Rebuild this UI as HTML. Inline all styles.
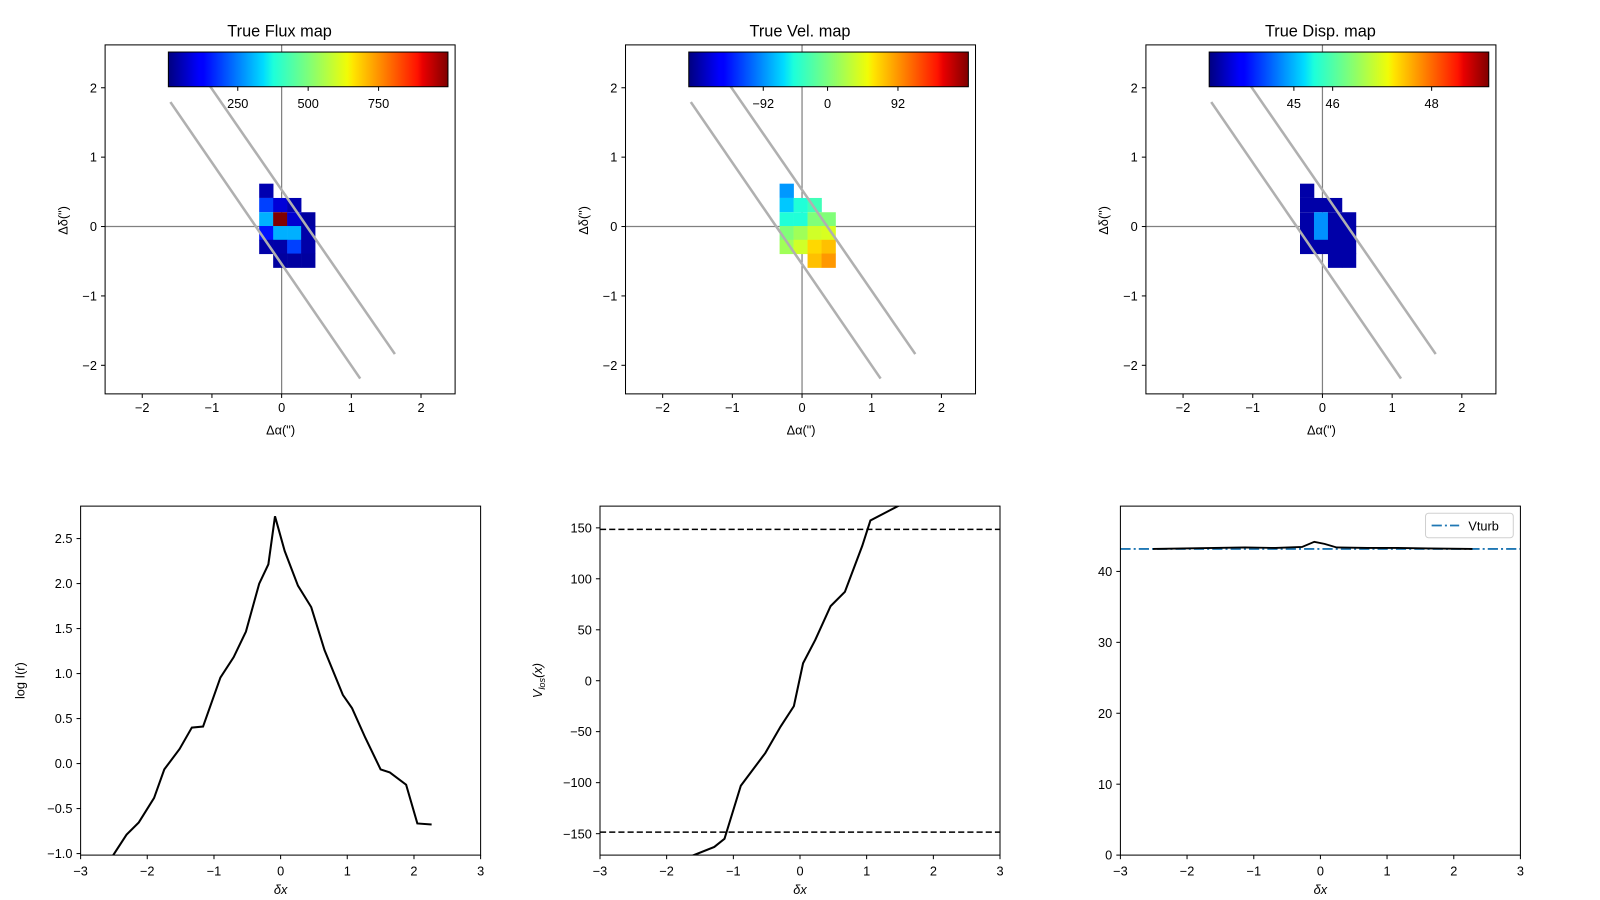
<!DOCTYPE html>
<html><head><meta charset="utf-8"><style>
html,body{margin:0;padding:0;background:#fff;}
svg{display:block;font-family:"Liberation Sans","DejaVu Sans",sans-serif;}
</style></head><body>
<svg width="1600" height="900" viewBox="0 0 1568 882" xmlns="http://www.w3.org/2000/svg">
<defs>
<linearGradient id="jet" x1="0" x2="1" y1="0" y2="0">
<stop offset="0" stop-color="#00007f"/><stop offset="0.11" stop-color="#0000ff"/><stop offset="0.125" stop-color="#0000ff"/>
<stop offset="0.34" stop-color="#00dcff"/><stop offset="0.375" stop-color="#1cffdb"/><stop offset="0.5" stop-color="#7dff7a"/>
<stop offset="0.64" stop-color="#f1fc06"/><stop offset="0.66" stop-color="#ffe600"/><stop offset="0.89" stop-color="#ff1300"/>
<stop offset="0.91" stop-color="#e80000"/><stop offset="1" stop-color="#7f0000"/>
</linearGradient>
<clipPath id="c1"><rect x="79" y="496" width="392" height="342"/></clipPath>
<clipPath id="c2"><rect x="588" y="496" width="392" height="342"/></clipPath>
<clipPath id="c3"><rect x="1098" y="496" width="392" height="342"/></clipPath>
</defs>

<g font-size="12.5" fill="#000">
<!-- Panel 1 -->
<g>
<text x="274" y="36" font-size="16" text-anchor="middle">True Flux map</text>
<line x1="103" y1="222" x2="446" y2="222" stroke="#808080" stroke-width="1.2"/>
<line x1="276" y1="44" x2="276" y2="386" stroke="#808080" stroke-width="1.2"/>
<g transform="translate(254,180)">
<rect x="0" y="0" width="14" height="14" fill="#0000b0"/>
<rect x="0" y="14" width="14" height="14" fill="#0040ff"/><rect x="13.7" y="14" width="14" height="14" fill="#0000d8"/><rect x="27.4" y="14" width="14" height="14" fill="#0000b0"/>
<rect x="0" y="28" width="14" height="14" fill="#00b0ff"/><rect x="13.7" y="28" width="14" height="14" fill="#800000"/><rect x="27.4" y="28" width="14" height="14" fill="#0000d0"/><rect x="41.1" y="28" width="14" height="14" fill="#0000a0"/>
<rect x="0" y="41.5" width="14" height="14" fill="#0010ff"/><rect x="13.7" y="41.5" width="14" height="14" fill="#00b0ff"/><rect x="27.4" y="41.5" width="14" height="14" fill="#00b0ff"/><rect x="41.1" y="41.5" width="14" height="14" fill="#0000a8"/>
<rect x="0" y="55" width="14" height="14" fill="#0000a8"/><rect x="13.7" y="55" width="14" height="14" fill="#0000a8"/><rect x="27.4" y="55" width="14" height="14" fill="#0040ff"/><rect x="41.1" y="55" width="14" height="14" fill="#0000a8"/>
<rect x="13.7" y="68.5" width="14" height="14" fill="#0000a0"/><rect x="27.4" y="68.5" width="14" height="14" fill="#0000a0"/><rect x="41.1" y="68.5" width="14" height="14" fill="#0000a0"/>
</g>
<line x1="167" y1="100" x2="353" y2="371" stroke="#b0b0b0" stroke-width="2.5"/>
<line x1="200" y1="76" x2="387" y2="347" stroke="#b0b0b0" stroke-width="2.5"/>
<rect x="165" y="51" width="274" height="34" fill="url(#jet)" stroke="#000" stroke-width="1"/>
<g stroke="#000"><line x1="233" y1="85" x2="233" y2="89"/><line x1="302" y1="85" x2="302" y2="89"/><line x1="371" y1="85" x2="371" y2="89"/></g>
<text x="233" y="106" text-anchor="middle">250</text><text x="302" y="106" text-anchor="middle">500</text><text x="371" y="106" text-anchor="middle">750</text>
<rect x="103" y="44" width="343" height="342" fill="none" stroke="#000" stroke-width="1"/>
<g stroke="#000"><line x1="139.4" y1="386" x2="139.4" y2="390"/><line x1="207.7" y1="386" x2="207.7" y2="390"/><line x1="276" y1="386" x2="276" y2="390"/><line x1="344.3" y1="386" x2="344.3" y2="390"/><line x1="412.6" y1="386" x2="412.6" y2="390"/>
<line x1="99" y1="86" x2="103" y2="86"/><line x1="99" y1="154" x2="103" y2="154"/><line x1="99" y1="222" x2="103" y2="222"/><line x1="99" y1="290" x2="103" y2="290"/><line x1="99" y1="358" x2="103" y2="358"/></g>
<g text-anchor="middle"><text x="139.4" y="404">−2</text><text x="207.7" y="404">−1</text><text x="276" y="404">0</text><text x="344.3" y="404">1</text><text x="412.6" y="404">2</text></g>
<g text-anchor="end"><text x="95" y="90.5">2</text><text x="95" y="158.5">1</text><text x="95" y="226.5">0</text><text x="95" y="294.5">−1</text><text x="95" y="362.5">−2</text></g>
<text x="275" y="426" text-anchor="middle">Δα(")</text>
<text transform="translate(66,216) rotate(-90)" text-anchor="middle">Δδ(")</text>
</g>

<!-- Panel 2 -->
<g transform="translate(510,0)">
<text x="274" y="36" font-size="16" text-anchor="middle">True Vel. map</text>
<line x1="103" y1="222" x2="446" y2="222" stroke="#808080" stroke-width="1.2"/>
<line x1="276" y1="44" x2="276" y2="386" stroke="#808080" stroke-width="1.2"/>
<g transform="translate(254,180)">
<rect x="0" y="0" width="14" height="14" fill="#0098ff"/>
<rect x="0" y="14" width="14" height="14" fill="#00c8ff"/><rect x="13.7" y="14" width="14" height="14" fill="#20ffd8"/><rect x="27.4" y="14" width="14" height="14" fill="#40ffb8"/>
<rect x="0" y="28" width="14" height="14" fill="#20ffd8"/><rect x="13.7" y="28" width="14" height="14" fill="#20ffd8"/><rect x="27.4" y="28" width="14" height="14" fill="#80ff78"/><rect x="41.1" y="28" width="14" height="14" fill="#80ff78"/>
<rect x="0" y="41.5" width="14" height="14" fill="#80ff78"/><rect x="13.7" y="41.5" width="14" height="14" fill="#a0ff58"/><rect x="27.4" y="41.5" width="14" height="14" fill="#d0ff28"/><rect x="41.1" y="41.5" width="14" height="14" fill="#d8ff20"/>
<rect x="0" y="55" width="14" height="14" fill="#a0ff58"/><rect x="13.7" y="55" width="14" height="14" fill="#d0ff28"/><rect x="27.4" y="55" width="14" height="14" fill="#ffd800"/><rect x="41.1" y="55" width="14" height="14" fill="#ffc000"/>
<rect x="27.4" y="68.5" width="14" height="14" fill="#ffc000"/><rect x="41.1" y="68.5" width="14" height="14" fill="#ff9800"/>
</g>
<line x1="167" y1="100" x2="353" y2="371" stroke="#b0b0b0" stroke-width="2.5"/>
<line x1="200" y1="76" x2="387" y2="347" stroke="#b0b0b0" stroke-width="2.5"/>
<rect x="165" y="51" width="274" height="34" fill="url(#jet)" stroke="#000" stroke-width="1"/>
<g stroke="#000"><line x1="238" y1="85" x2="238" y2="89"/><line x1="301" y1="85" x2="301" y2="89"/><line x1="370" y1="85" x2="370" y2="89"/></g>
<text x="238" y="106" text-anchor="middle">−92</text><text x="301" y="106" text-anchor="middle">0</text><text x="370" y="106" text-anchor="middle">92</text>
<rect x="103" y="44" width="343" height="342" fill="none" stroke="#000" stroke-width="1"/>
<g stroke="#000"><line x1="139.4" y1="386" x2="139.4" y2="390"/><line x1="207.7" y1="386" x2="207.7" y2="390"/><line x1="276" y1="386" x2="276" y2="390"/><line x1="344.3" y1="386" x2="344.3" y2="390"/><line x1="412.6" y1="386" x2="412.6" y2="390"/>
<line x1="99" y1="86" x2="103" y2="86"/><line x1="99" y1="154" x2="103" y2="154"/><line x1="99" y1="222" x2="103" y2="222"/><line x1="99" y1="290" x2="103" y2="290"/><line x1="99" y1="358" x2="103" y2="358"/></g>
<g text-anchor="middle"><text x="139.4" y="404">−2</text><text x="207.7" y="404">−1</text><text x="276" y="404">0</text><text x="344.3" y="404">1</text><text x="412.6" y="404">2</text></g>
<g text-anchor="end"><text x="95" y="90.5">2</text><text x="95" y="158.5">1</text><text x="95" y="226.5">0</text><text x="95" y="294.5">−1</text><text x="95" y="362.5">−2</text></g>
<text x="275" y="426" text-anchor="middle">Δα(")</text>
<text transform="translate(66,216) rotate(-90)" text-anchor="middle">Δδ(")</text>
</g>

<!-- Panel 3 -->
<g transform="translate(1020,0)">
<text x="274" y="36" font-size="16" text-anchor="middle">True Disp. map</text>
<line x1="103" y1="222" x2="446" y2="222" stroke="#808080" stroke-width="1.2"/>
<line x1="276" y1="44" x2="276" y2="386" stroke="#808080" stroke-width="1.2"/>
<g transform="translate(254,180)" fill="#0000a8">
<rect x="0" y="0" width="14" height="14"/>
<rect x="0" y="14" width="14" height="14"/><rect x="13.7" y="14" width="14" height="14"/><rect x="27.4" y="14" width="14" height="14"/>
<rect x="0" y="28" width="14" height="14"/><rect x="13.7" y="28" width="14" height="14" fill="#0090ff"/><rect x="27.4" y="28" width="14" height="14"/><rect x="41.1" y="28" width="14" height="14"/>
<rect x="0" y="41.5" width="14" height="14"/><rect x="13.7" y="41.5" width="14" height="14" fill="#0090ff"/><rect x="27.4" y="41.5" width="14" height="14"/><rect x="41.1" y="41.5" width="14" height="14"/>
<rect x="0" y="55" width="14" height="14"/><rect x="13.7" y="55" width="14" height="14"/><rect x="27.4" y="55" width="14" height="14"/><rect x="41.1" y="55" width="14" height="14"/>
<rect x="27.4" y="68.5" width="14" height="14"/><rect x="41.1" y="68.5" width="14" height="14"/>
</g>
<line x1="167" y1="100" x2="353" y2="371" stroke="#b0b0b0" stroke-width="2.5"/>
<line x1="200" y1="76" x2="387" y2="347" stroke="#b0b0b0" stroke-width="2.5"/>
<rect x="165" y="51" width="274" height="34" fill="url(#jet)" stroke="#000" stroke-width="1"/>
<g stroke="#000"><line x1="248" y1="85" x2="248" y2="89"/><line x1="286" y1="85" x2="286" y2="89"/><line x1="383" y1="85" x2="383" y2="89"/></g>
<text x="248" y="106" text-anchor="middle">45</text><text x="286" y="106" text-anchor="middle">46</text><text x="383" y="106" text-anchor="middle">48</text>
<rect x="103" y="44" width="343" height="342" fill="none" stroke="#000" stroke-width="1"/>
<g stroke="#000"><line x1="139.4" y1="386" x2="139.4" y2="390"/><line x1="207.7" y1="386" x2="207.7" y2="390"/><line x1="276" y1="386" x2="276" y2="390"/><line x1="344.3" y1="386" x2="344.3" y2="390"/><line x1="412.6" y1="386" x2="412.6" y2="390"/>
<line x1="99" y1="86" x2="103" y2="86"/><line x1="99" y1="154" x2="103" y2="154"/><line x1="99" y1="222" x2="103" y2="222"/><line x1="99" y1="290" x2="103" y2="290"/><line x1="99" y1="358" x2="103" y2="358"/></g>
<g text-anchor="middle"><text x="139.4" y="404">−2</text><text x="207.7" y="404">−1</text><text x="276" y="404">0</text><text x="344.3" y="404">1</text><text x="412.6" y="404">2</text></g>
<g text-anchor="end"><text x="95" y="90.5">2</text><text x="95" y="158.5">1</text><text x="95" y="226.5">0</text><text x="95" y="294.5">−1</text><text x="95" y="362.5">−2</text></g>
<text x="275" y="426" text-anchor="middle">Δα(")</text>
<text transform="translate(66,216) rotate(-90)" text-anchor="middle">Δδ(")</text>
</g>

<!-- Bottom left -->
<polyline clip-path="url(#c1)" fill="none" stroke="#000" stroke-width="2" points="105,846 111,838 124,818 136,806 151,782 161,754 176,734 188,713 199,712 216,664 229,644 241,619 254,572 263,553 269.5,506 279,540 292,574 305,595 318,637 336,681 345,694 358,723 373,754 382,757 398,769 409,807 423,808"/>
<rect x="79" y="496" width="392" height="342" fill="none" stroke="#000"/>
<g stroke="#000"><line x1="79" y1="838" x2="79" y2="842"/><line x1="144.3" y1="838" x2="144.3" y2="842"/><line x1="209.7" y1="838" x2="209.7" y2="842"/><line x1="275" y1="838" x2="275" y2="842"/><line x1="340.3" y1="838" x2="340.3" y2="842"/><line x1="405.7" y1="838" x2="405.7" y2="842"/><line x1="471" y1="838" x2="471" y2="842"/>
<line x1="75" y1="836.5" x2="79" y2="836.5"/><line x1="75" y1="792.4" x2="79" y2="792.4"/><line x1="75" y1="748.3" x2="79" y2="748.3"/><line x1="75" y1="704.2" x2="79" y2="704.2"/><line x1="75" y1="660.1" x2="79" y2="660.1"/><line x1="75" y1="616" x2="79" y2="616"/><line x1="75" y1="571.9" x2="79" y2="571.9"/><line x1="75" y1="527.8" x2="79" y2="527.8"/></g>
<g text-anchor="middle"><text x="79" y="858">−3</text><text x="144.3" y="858">−2</text><text x="209.7" y="858">−1</text><text x="275" y="858">0</text><text x="340.3" y="858">1</text><text x="405.7" y="858">2</text><text x="471" y="858">3</text></g>
<g text-anchor="end"><text x="71" y="841">−1.0</text><text x="71" y="796.9">−0.5</text><text x="71" y="752.8">0.0</text><text x="71" y="708.7">0.5</text><text x="71" y="664.6">1.0</text><text x="71" y="620.5">1.5</text><text x="71" y="576.4">2.0</text><text x="71" y="532.3">2.5</text></g>
<text x="275" y="876" text-anchor="middle" font-style="italic">δx</text>
<text transform="translate(24,667) rotate(-90)" text-anchor="middle">log I(r)</text>

<!-- Bottom middle -->
<g clip-path="url(#c2)">
<line x1="588" y1="518.8" x2="980" y2="518.8" stroke="#000" stroke-width="1.5" stroke-dasharray="6,3"/>
<line x1="588" y1="815.5" x2="980" y2="815.5" stroke="#000" stroke-width="1.5" stroke-dasharray="6,3"/>
<polyline fill="none" stroke="#000" stroke-width="2" points="660,846 680,838 700,830 710,822 726,770 750,738 765,712 778,692 787,650 799,627 814,594 828,580 845,535 853,510 880,496 895,488"/>
</g>
<rect x="588" y="496" width="392" height="342" fill="none" stroke="#000"/>
<g stroke="#000"><line x1="588" y1="838" x2="588" y2="842"/><line x1="653.3" y1="838" x2="653.3" y2="842"/><line x1="718.7" y1="838" x2="718.7" y2="842"/><line x1="784" y1="838" x2="784" y2="842"/><line x1="849.3" y1="838" x2="849.3" y2="842"/><line x1="914.7" y1="838" x2="914.7" y2="842"/><line x1="980" y1="838" x2="980" y2="842"/>
<line x1="584" y1="817" x2="588" y2="817"/><line x1="584" y1="767" x2="588" y2="767"/><line x1="584" y1="717" x2="588" y2="717"/><line x1="584" y1="667.1" x2="588" y2="667.1"/><line x1="584" y1="617.2" x2="588" y2="617.2"/><line x1="584" y1="567.2" x2="588" y2="567.2"/><line x1="584" y1="517.3" x2="588" y2="517.3"/></g>
<g text-anchor="middle"><text x="588" y="858">−3</text><text x="653.3" y="858">−2</text><text x="718.7" y="858">−1</text><text x="784" y="858">0</text><text x="849.3" y="858">1</text><text x="914.7" y="858">2</text><text x="980" y="858">3</text></g>
<g text-anchor="end"><text x="580" y="821.5">−150</text><text x="580" y="771.5">−100</text><text x="580" y="721.5">−50</text><text x="580" y="671.6">0</text><text x="580" y="621.7">50</text><text x="580" y="571.7">100</text><text x="580" y="521.8">150</text></g>
<text x="784" y="876" text-anchor="middle" font-style="italic">δx</text>
<text transform="translate(531,667) rotate(-90)" text-anchor="middle" font-style="italic">V<tspan font-size="9" dy="3">los</tspan><tspan dy="-3">(x)</tspan></text>

<!-- Bottom right -->
<g clip-path="url(#c3)">
<line x1="1098" y1="538" x2="1490" y2="538" stroke="#1f77b4" stroke-width="1.8" stroke-dasharray="10,3,2,3"/>
<polyline fill="none" stroke="#000" stroke-width="1.8" points="1130,538 1160,537.5 1190,537 1220,536.5 1250,537 1276,536 1288,531 1298,533 1310,536.5 1340,537 1370,537 1400,537.5 1443,538"/>
</g>
<rect x="1098" y="496" width="392" height="342" fill="none" stroke="#000"/>
<g stroke="#000"><line x1="1098" y1="838" x2="1098" y2="842"/><line x1="1163.3" y1="838" x2="1163.3" y2="842"/><line x1="1228.7" y1="838" x2="1228.7" y2="842"/><line x1="1294" y1="838" x2="1294" y2="842"/><line x1="1359.3" y1="838" x2="1359.3" y2="842"/><line x1="1424.7" y1="838" x2="1424.7" y2="842"/><line x1="1490" y1="838" x2="1490" y2="842"/>
<line x1="1094" y1="838" x2="1098" y2="838"/><line x1="1094" y1="768.5" x2="1098" y2="768.5"/><line x1="1094" y1="699" x2="1098" y2="699"/><line x1="1094" y1="629.5" x2="1098" y2="629.5"/><line x1="1094" y1="560" x2="1098" y2="560"/></g>
<g text-anchor="middle"><text x="1098" y="858">−3</text><text x="1163.3" y="858">−2</text><text x="1228.7" y="858">−1</text><text x="1294" y="858">0</text><text x="1359.3" y="858">1</text><text x="1424.7" y="858">2</text><text x="1490" y="858">3</text></g>
<g text-anchor="end"><text x="1090" y="842.5">0</text><text x="1090" y="773">10</text><text x="1090" y="703.5">20</text><text x="1090" y="634">30</text><text x="1090" y="564.5">40</text></g>
<text x="1294" y="876" text-anchor="middle" font-style="italic">δx</text>
<rect x="1397" y="503" width="86" height="24" rx="3" fill="#fff" fill-opacity="0.85" stroke="#d0d0d0"/>
<line x1="1403" y1="515" x2="1430" y2="515" stroke="#1f77b4" stroke-width="1.8" stroke-dasharray="10,3,2,3"/>
<text x="1439" y="520">Vturb</text>
</g>
</svg>
</body></html>
